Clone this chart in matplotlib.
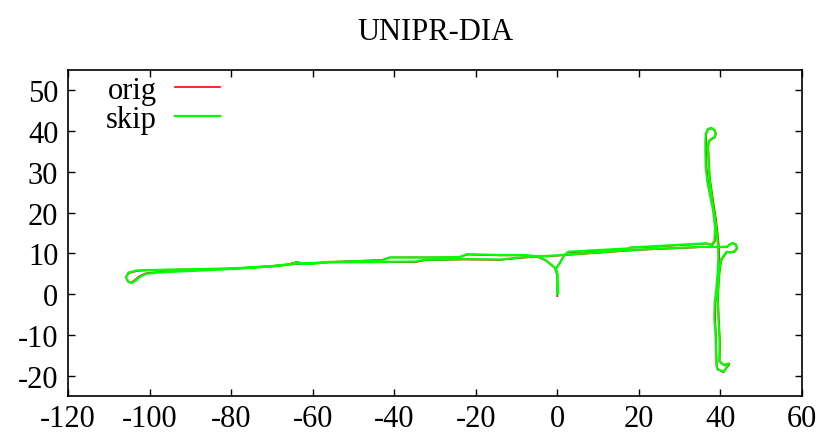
import numpy as np
import matplotlib
matplotlib.use('Agg')
import matplotlib.pyplot as plt

# trajectory (x, y in metres)
orig_x = [0.0, 0.0, 0.0, -0.3, 0.5, 1.5, 2.5, 8.0, 13.6, 17.0, 18.0, 21.0, 28.0, 35.0, 36.5, 38.0,
          38.7, 38.9, 38.4, 37.6, 37.0, 36.6, 36.5, 36.5, 36.5, 37.0, 37.8, 38.6, 38.9, 38.6, 37.8,
          37.2, 37.0, 37.4, 38.2, 38.9, 39.3, 39.6, 39.7, 39.5, 39.2, 38.8, 38.7, 38.9, 39.0, 39.1,
          39.3, 40.7, 42.2, 41.0, 39.8, 39.9, 39.6, 39.4, 39.6, 39.9, 40.3, 41.6, 42.4, 43.5, 44.1,
          43.8, 42.9, 42.1, 41.6, 39.0, 35.0, 28.0, 21.0, 13.6, 8.0, 2.2, -2.0, -5.0, -10.0, -14.0,
          -23.0, -32.5, -34.5, -45.0, -56.0, -60.0, -64.0, -70.0, -78.0, -85.0, -95.0, -100.0,
          -103.0, -105.0, -105.8, -105.4, -104.6, -103.8, -102.5, -101.0, -98.0, -92.0, -85.0,
          -78.0, -70.0, -66.0, -64.0, -62.5, -60.0, -56.0, -48.0, -43.0, -41.0, -30.0, -24.0, -22.0,
          -14.0, -8.0, -5.0, -3.0, -1.5, -0.5, 0.0, 0.0, 0.0]
orig_y = [-0.5, 2.0, 5.0, 6.2, 7.5, 9.2, 10.2, 10.5, 10.9, 11.1, 11.4, 11.5, 11.9, 12.3, 12.4, 12.0,
          13.0, 16.0, 20.5, 24.5, 27.5, 31.0, 35.0, 37.5, 39.3, 40.4, 40.7, 40.2, 39.3, 38.4, 38.0,
          37.4, 36.0, 28.5, 23.0, 18.5, 15.0, 12.0, 9.0, 5.0, 1.5, -2.0, -6.0, -10.0, -14.0, -17.5,
          -18.3, -19.2, -17.2, -17.5, -16.5, -12.0, -6.0, -1.0, 3.0, 6.5, 8.5, 10.3, 10.2, 10.4,
          11.2, 12.2, 12.5, 12.1, 11.5, 11.5, 11.5, 11.2, 10.9, 10.4, 10.0, 9.6, 9.3, 9.2, 8.8, 8.4,
          8.5, 8.3, 7.9, 7.8, 7.8, 7.5, 7.4, 6.8, 6.3, 6.1, 6.0, 5.9,
          5.7, 5.2, 4.2, 3.2, 2.8, 3.3, 4.4, 5.1, 5.4, 5.7, 6.0,
          6.4, 6.9, 7.3, 7.9, 7.6, 7.6, 7.9, 8.2, 8.4, 9.0, 9.0, 9.1, 9.7,
          9.5, 9.5, 9.2, 8.3, 7.2, 6.3, 5.0, 2.0, 0.0]

skip_x = [0.0, 0.0, -0.4, 0.6, 1.6, 2.7, 8.0, 13.6, 17.2, 18.2, 21.0, 28.0, 35.0, 36.4, 37.8,
          38.5, 38.7, 38.2, 37.4, 36.8, 36.4, 36.3, 36.3, 36.4, 36.9, 37.7, 38.5, 38.8, 38.5, 37.7,
          37.1, 36.9, 37.3, 38.0, 38.7, 39.1, 39.4, 39.5, 39.3, 39.0, 38.6, 38.5, 38.8, 38.9, 39.0,
          39.3, 40.9, 42.0, 40.8, 39.7, 39.8, 39.5, 39.3, 39.5, 39.8, 40.2, 41.5, 42.3, 43.5, 44.0,
          43.7, 42.8, 42.1, 41.5, 39.0, 35.0, 28.0, 21.0, 13.6, 8.0, 2.2, -2.0, -5.0, -10.0, -14.0,
          -23.0, -32.8, -34.8, -45.0, -56.0, -60.0, -64.0, -70.0, -78.0, -85.0, -95.0, -100.0,
          -103.2, -105.2, -105.8, -105.2, -104.4, -103.6, -102.3, -100.8, -98.0, -92.0, -85.0,
          -78.0, -70.0, -66.0, -64.0, -62.5, -60.0, -56.0, -48.0, -43.0, -41.2, -30.0, -24.0, -22.2,
          -14.0, -8.0, -5.0, -3.0, -1.6, -0.6, -0.1, 0.0, 0.0]
skip_y = [0.0, 5.0, 6.3, 7.6, 9.4, 10.4, 10.7, 11.0, 11.2, 11.5, 11.6, 12.0, 12.4, 12.5, 12.1,
          13.0, 16.0, 20.5, 24.5, 27.5, 31.0, 35.0, 37.5, 39.4, 40.5, 40.8, 40.3, 39.4, 38.5, 38.1,
          37.5, 36.0, 28.5, 23.0, 18.5, 15.0, 12.0, 9.0, 5.0, 1.5, -2.0, -6.0, -10.0, -14.0, -17.5,
          -18.5, -19.0, -17.0, -17.4, -16.5, -12.0, -6.0, -1.0, 3.0, 6.5, 8.6, 10.4, 10.3, 10.5,
          11.3, 12.3, 12.5, 12.0, 11.6, 11.6, 11.6, 11.3, 11.0, 10.5, 10.1, 9.7, 9.4, 9.3, 8.9, 8.5,
          8.6, 8.4, 8.0, 7.9, 7.9, 7.6, 7.5, 6.9, 6.4, 6.2, 6.0, 5.9,
          5.8, 5.3, 4.1, 3.0, 2.7, 3.2, 4.3, 5.0, 5.3, 5.6, 5.9,
          6.3, 6.8, 7.2, 7.8, 7.5, 7.5, 7.8, 8.1, 8.3, 9.0, 9.0, 9.1, 9.8,
          9.6, 9.6, 9.3, 8.4, 7.3, 6.4, 5.0, 2.0, 0.2]

x_ticks = [-120, -100, -80, -60, -40, -20, 0, 20, 40, 60]
y_ticks = [-20, -10, 0, 10, 20, 30, 40, 50]

plt.rcParams['font.family'] = ['Liberation Serif', 'DejaVu Serif']
plt.rcParams['axes.unicode_minus'] = False

fig = plt.figure(figsize=(8.22, 4.39), dpi=100)
ax = fig.add_axes([68/822, 42/439, 734/822, 326/439])

ax.plot(orig_x, orig_y, color='#ff0000', lw=1.2, label='orig')
ax.plot(skip_x, skip_y, color='#00ff00', lw=1.6, label='skip')

ax.set_xlim(-120, 60)
ax.set_ylim(-25, 55)
ax.set_xticks(x_ticks)
ax.set_yticks(y_ticks)
ax.tick_params(direction='in', length=5, width=1, top=True, right=True,
               labelsize=22, pad=7)
ax.tick_params(axis='x', pad=6)
for s in ax.spines.values():
    s.set_linewidth(1.2)

ax.set_title('UNIPR-DIA', fontsize=22, pad=22)

ax.legend(loc='upper left', bbox_to_anchor=(106/822, 1 - 77/439), bbox_transform=fig.transFigure,
          frameon=False, markerfirst=False, fontsize=22, handlelength=1.45,
          handletextpad=0.6, labelspacing=0.0, borderpad=0, borderaxespad=0)

fig.savefig('out.png', dpi=100)
